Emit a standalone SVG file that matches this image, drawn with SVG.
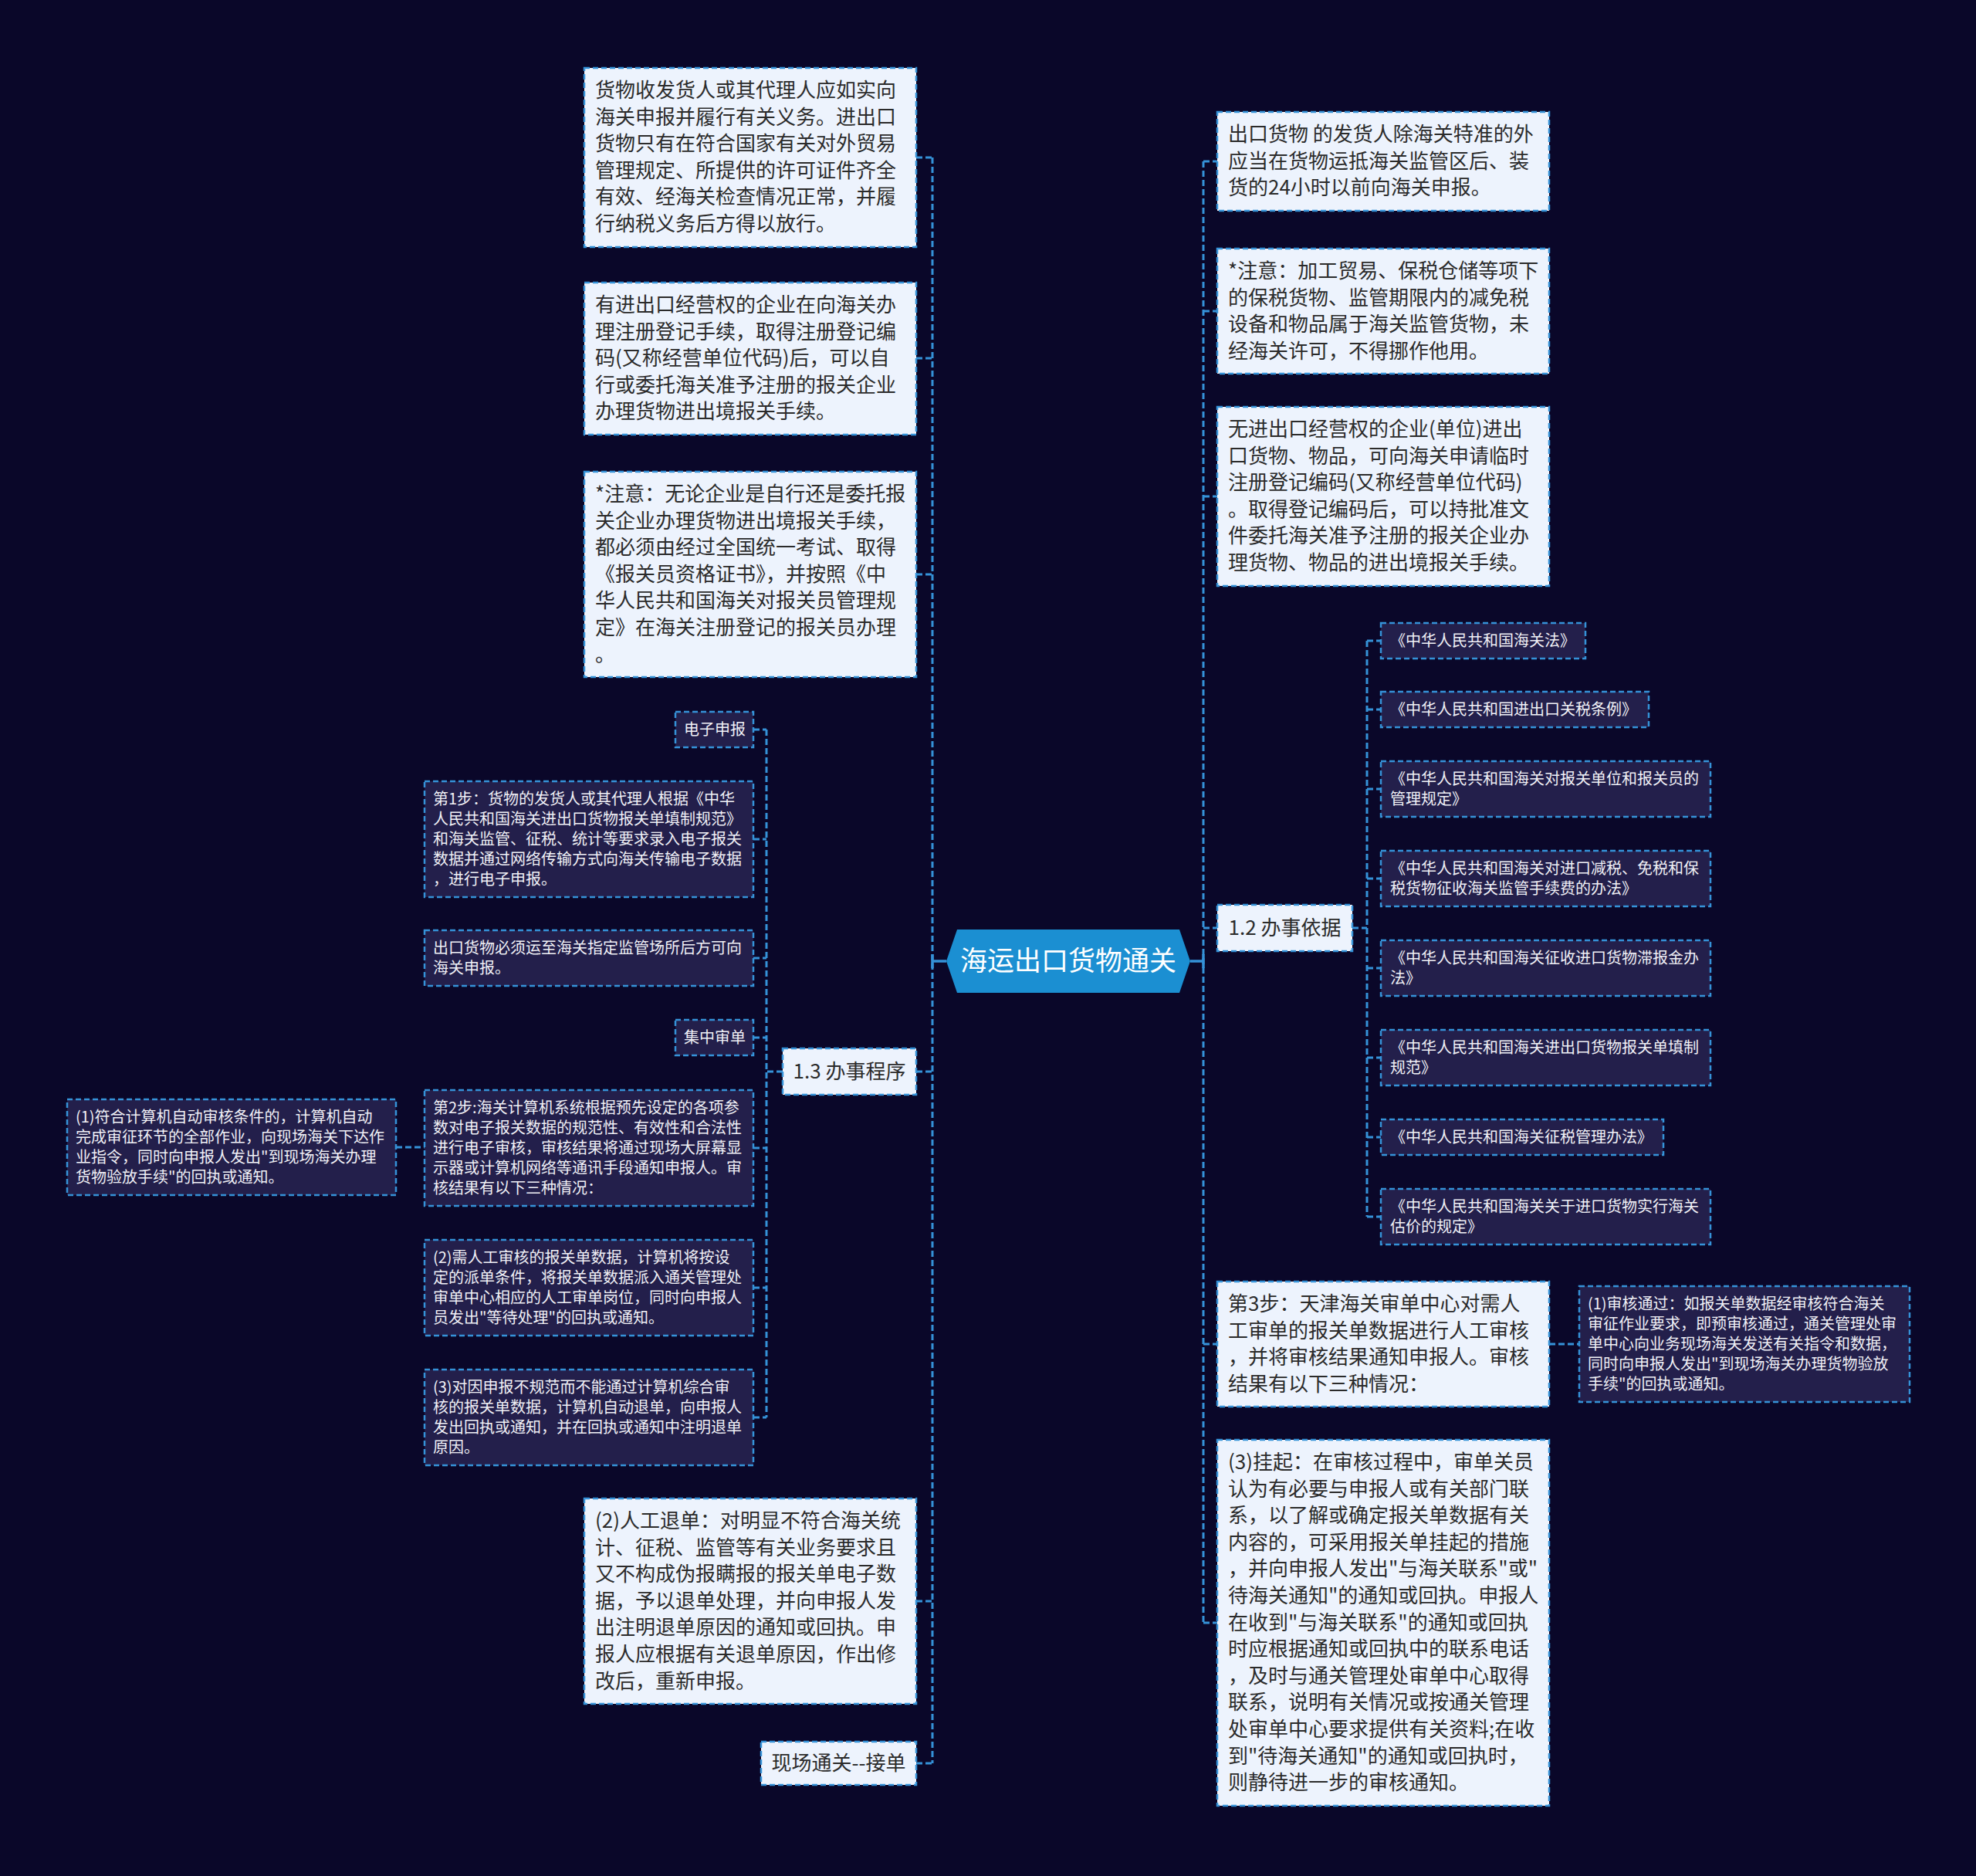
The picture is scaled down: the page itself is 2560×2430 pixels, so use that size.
<svg xmlns="http://www.w3.org/2000/svg" width="2560" height="2430" viewBox="0 0 2560 2430">
<style>
.bg{fill:#0a0729}
.lb{fill:#edf3fd;stroke:#3592d8;stroke-width:2.5;stroke-dasharray:7 4}
.db{fill:#231f4b;stroke:#3592d8;stroke-width:2.5;stroke-dasharray:7 4}
.lt{font-family:"Noto Sans CJK SC","Noto Sans",sans-serif;font-size:26px;fill:#2b2b2b}
.dt{font-family:"Noto Sans CJK SC","Noto Sans",sans-serif;font-size:20px;fill:#f0f0f6}
.ct{font-family:"Noto Sans CJK SC","Noto Sans",sans-serif;font-size:35px;fill:#ffffff}
.cn{fill:none;stroke:#3592d8;stroke-width:3;stroke-dasharray:8 4}
.cs{fill:none;stroke:#3592d8;stroke-width:3.5}
</style>
<rect class="bg" x="0" y="0" width="2560" height="2430"/>

<g id="connectors">
  <path class="cs" d="M1226 1245H1208M1208 1236V1254"/>
  <path class="cs" d="M1542 1245H1559M1559 1236V1254"/>
  <path class="cn" d="M1208 204V2284"/>
  <path class="cn" d="M1187 204H1208M1187 464H1208M1187 744H1208M1187 1388H1208M1187 2074H1208M1187 2284H1208"/>
  <path class="cn" d="M993 945V1836"/>
  <path class="cn" d="M1014 1388H993M976 945H993M976 1087H993M976 1241H993M976 1344H993M976 1487H993M976 1668H993M976 1836H993"/>
  <path class="cn" d="M513 1486H550"/>
  <path class="cn" d="M1559 209V2102"/>
  <path class="cn" d="M1559 209H1577M1559 403H1577M1559 643H1577M1559 1202H1577M1559 1741H1577M1559 2102H1577"/>
  <path class="cn" d="M1771 830V1576"/>
  <path class="cn" d="M1752 1202H1771M1771 830H1789M1771 919H1789M1771 1022H1789M1771 1138H1789M1771 1254H1789M1771 1370H1789M1771 1473H1789M1771 1576H1789"/>
  <path class="cn" d="M2007 1741H2046"/>
</g>

<g id="center">
  <polygon points="1226,1245 1240,1204 1528,1204 1542,1245 1528,1286 1240,1286" fill="#1b8fd2"/>
  <text class="ct" x="1384" y="1257" text-anchor="middle">海运出口货物通关</text>
</g>

<g id="L1">
  <rect class="lb" x="757" y="88" width="430" height="232"/>
  <text class="lt" x="771" y="126"><tspan x="771" dy="0">货物收发货人或其代理人应如实向</tspan><tspan x="771" dy="34.6">海关申报并履行有关义务。进出口</tspan><tspan x="771" dy="34.6">货物只有在符合国家有关对外贸易</tspan><tspan x="771" dy="34.6">管理规定、所提供的许可证件齐全</tspan><tspan x="771" dy="34.6">有效、经海关检查情况正常，并履</tspan><tspan x="771" dy="34.6">行纳税义务后方得以放行。</tspan></text>
</g>
<g id="L2">
  <rect class="lb" x="757" y="366" width="430" height="197"/>
  <text class="lt" x="771" y="404"><tspan x="771" dy="0">有进出口经营权的企业在向海关办</tspan><tspan x="771" dy="34.6">理注册登记手续，取得注册登记编</tspan><tspan x="771" dy="34.6">码(又称经营单位代码)后，可以自</tspan><tspan x="771" dy="34.6">行或委托海关准予注册的报关企业</tspan><tspan x="771" dy="34.6">办理货物进出境报关手续。</tspan></text>
</g>
<g id="L3">
  <rect class="lb" x="757" y="611" width="430" height="266"/>
  <text class="lt" x="771" y="649"><tspan x="771" dy="0">*注意：无论企业是自行还是委托报</tspan><tspan x="771" dy="34.6">关企业办理货物进出境报关手续，</tspan><tspan x="771" dy="34.6">都必须由经过全国统一考试、取得</tspan><tspan x="771" dy="34.6">《报关员资格证书》，并按照《中</tspan><tspan x="771" dy="34.6">华人民共和国海关对报关员管理规</tspan><tspan x="771" dy="34.6">定》在海关注册登记的报关员办理</tspan><tspan x="771" dy="34.6">。</tspan></text>
</g>
<g id="n13">
  <rect class="lb" x="1014" y="1358" width="173" height="60"/>
  <text class="lt" x="1100.5" y="1397" text-anchor="middle">1.3 办事程序</text>
</g>
<g id="dzsb">
  <rect class="db" x="875" y="922" width="101" height="46"/>
  <text class="dt" x="886" y="952">电子申报</text>
</g>
<g id="step1">
  <rect class="db" x="550" y="1012" width="426" height="150"/>
  <text class="dt" x="561" y="1042"><tspan x="561" dy="0">第1步：货物的发货人或其代理人根据《中华</tspan><tspan x="561" dy="26">人民共和国海关进出口货物报关单填制规范》</tspan><tspan x="561" dy="26">和海关监管、征税、统计等要求录入电子报关</tspan><tspan x="561" dy="26">数据并通过网络传输方式向海关传输电子数据</tspan><tspan x="561" dy="26">，进行电子申报。</tspan></text>
</g>
<g id="ckhw">
  <rect class="db" x="550" y="1205" width="426" height="72"/>
  <text class="dt" x="561" y="1235"><tspan x="561" dy="0">出口货物必须运至海关指定监管场所后方可向</tspan><tspan x="561" dy="26">海关申报。</tspan></text>
</g>
<g id="jzsd">
  <rect class="db" x="875" y="1321" width="101" height="46"/>
  <text class="dt" x="886" y="1351">集中审单</text>
</g>
<g id="step2">
  <rect class="db" x="550" y="1412" width="426" height="150"/>
  <text class="dt" x="561" y="1442"><tspan x="561" dy="0">第2步:海关计算机系统根据预先设定的各项参</tspan><tspan x="561" dy="26">数对电子报关数据的规范性、有效性和合法性</tspan><tspan x="561" dy="26">进行电子审核，审核结果将通过现场大屏幕显</tspan><tspan x="561" dy="26">示器或计算机网络等通讯手段通知申报人。审</tspan><tspan x="561" dy="26">核结果有以下三种情况：</tspan></text>
</g>
<g id="auto1">
  <rect class="db" x="87" y="1424" width="426" height="124"/>
  <text class="dt" x="98" y="1454"><tspan x="98" dy="0">(1)符合计算机自动审核条件的，计算机自动</tspan><tspan x="98" dy="26">完成审征环节的全部作业，向现场海关下达作</tspan><tspan x="98" dy="26">业指令，同时向申报人发出"到现场海关办理</tspan><tspan x="98" dy="26">货物验放手续"的回执或通知。</tspan></text>
</g>
<g id="auto2">
  <rect class="db" x="550" y="1606" width="426" height="124"/>
  <text class="dt" x="561" y="1636"><tspan x="561" dy="0">(2)需人工审核的报关单数据，计算机将按设</tspan><tspan x="561" dy="26">定的派单条件，将报关单数据派入通关管理处</tspan><tspan x="561" dy="26">审单中心相应的人工审单岗位，同时向申报人</tspan><tspan x="561" dy="26">员发出"等待处理"的回执或通知。</tspan></text>
</g>
<g id="auto3">
  <rect class="db" x="550" y="1774" width="426" height="124"/>
  <text class="dt" x="561" y="1804"><tspan x="561" dy="0">(3)对因申报不规范而不能通过计算机综合审</tspan><tspan x="561" dy="26">核的报关单数据，计算机自动退单，向申报人</tspan><tspan x="561" dy="26">发出回执或通知，并在回执或通知中注明退单</tspan><tspan x="561" dy="26">原因。</tspan></text>
</g>
<g id="rgtd">
  <rect class="lb" x="757" y="1941" width="430" height="266"/>
  <text class="lt" x="771" y="1979"><tspan x="771" dy="0">(2)人工退单：对明显不符合海关统</tspan><tspan x="771" dy="34.6">计、征税、监管等有关业务要求且</tspan><tspan x="771" dy="34.6">又不构成伪报瞒报的报关单电子数</tspan><tspan x="771" dy="34.6">据，予以退单处理，并向申报人发</tspan><tspan x="771" dy="34.6">出注明退单原因的通知或回执。申</tspan><tspan x="771" dy="34.6">报人应根据有关退单原因，作出修</tspan><tspan x="771" dy="34.6">改后，重新申报。</tspan></text>
</g>
<g id="xctg">
  <rect class="lb" x="986" y="2256" width="201" height="56"/>
  <text class="lt" x="1086.5" y="2293" text-anchor="middle">现场通关--接单</text>
</g>

<g id="R1">
  <rect class="lb" x="1577" y="145" width="430" height="128"/>
  <text class="lt" x="1591" y="183"><tspan x="1591" dy="0">出口货物 的发货人除海关特准的外</tspan><tspan x="1591" dy="34.6">应当在货物运抵海关监管区后、装</tspan><tspan x="1591" dy="34.6">货的24小时以前向海关申报。</tspan></text>
</g>
<g id="R2">
  <rect class="lb" x="1577" y="322" width="430" height="162"/>
  <text class="lt" x="1591" y="360"><tspan x="1591" dy="0">*注意：加工贸易、保税仓储等项下</tspan><tspan x="1591" dy="34.6">的保税货物、监管期限内的减免税</tspan><tspan x="1591" dy="34.6">设备和物品属于海关监管货物，未</tspan><tspan x="1591" dy="34.6">经海关许可，不得挪作他用。</tspan></text>
</g>
<g id="R3">
  <rect class="lb" x="1577" y="527" width="430" height="232"/>
  <text class="lt" x="1591" y="565"><tspan x="1591" dy="0">无进出口经营权的企业(单位)进出</tspan><tspan x="1591" dy="34.6">口货物、物品，可向海关申请临时</tspan><tspan x="1591" dy="34.6">注册登记编码(又称经营单位代码)</tspan><tspan x="1591" dy="34.6">。取得登记编码后，可以持批准文</tspan><tspan x="1591" dy="34.6">件委托海关准予注册的报关企业办</tspan><tspan x="1591" dy="34.6">理货物、物品的进出境报关手续。</tspan></text>
</g>
<g id="n12">
  <rect class="lb" x="1577" y="1172" width="175" height="60"/>
  <text class="lt" x="1664.5" y="1211" text-anchor="middle">1.2 办事依据</text>
</g>
<g id="law1">
  <rect class="db" x="1789" y="807" width="265" height="46"/>
  <text class="dt" x="1801" y="837">《中华人民共和国海关法》</text>
</g>
<g id="law2">
  <rect class="db" x="1789" y="896" width="347" height="46"/>
  <text class="dt" x="1801" y="926">《中华人民共和国进出口关税条例》</text>
</g>
<g id="law3">
  <rect class="db" x="1789" y="986" width="427" height="72"/>
  <text class="dt" x="1801" y="1016"><tspan x="1801" dy="0">《中华人民共和国海关对报关单位和报关员的</tspan><tspan x="1801" dy="26">管理规定》</tspan></text>
</g>
<g id="law4">
  <rect class="db" x="1789" y="1102" width="427" height="72"/>
  <text class="dt" x="1801" y="1132"><tspan x="1801" dy="0">《中华人民共和国海关对进口减税、免税和保</tspan><tspan x="1801" dy="26">税货物征收海关监管手续费的办法》</tspan></text>
</g>
<g id="law5">
  <rect class="db" x="1789" y="1218" width="427" height="72"/>
  <text class="dt" x="1801" y="1248"><tspan x="1801" dy="0">《中华人民共和国海关征收进口货物滞报金办</tspan><tspan x="1801" dy="26">法》</tspan></text>
</g>
<g id="law6">
  <rect class="db" x="1789" y="1334" width="427" height="72"/>
  <text class="dt" x="1801" y="1364"><tspan x="1801" dy="0">《中华人民共和国海关进出口货物报关单填制</tspan><tspan x="1801" dy="26">规范》</tspan></text>
</g>
<g id="law7">
  <rect class="db" x="1789" y="1450" width="366" height="46"/>
  <text class="dt" x="1801" y="1480">《中华人民共和国海关征税管理办法》</text>
</g>
<g id="law8">
  <rect class="db" x="1789" y="1540" width="427" height="72"/>
  <text class="dt" x="1801" y="1570"><tspan x="1801" dy="0">《中华人民共和国海关关于进口货物实行海关</tspan><tspan x="1801" dy="26">估价的规定》</tspan></text>
</g>
<g id="step3">
  <rect class="lb" x="1577" y="1660" width="430" height="162"/>
  <text class="lt" x="1591" y="1698"><tspan x="1591" dy="0">第3步：天津海关审单中心对需人</tspan><tspan x="1591" dy="34.6">工审单的报关单数据进行人工审核</tspan><tspan x="1591" dy="34.6">，并将审核结果通知申报人。审核</tspan><tspan x="1591" dy="34.6">结果有以下三种情况：</tspan></text>
</g>
<g id="pass1">
  <rect class="db" x="2046" y="1666" width="428" height="150"/>
  <text class="dt" x="2057" y="1696"><tspan x="2057" dy="0">(1)审核通过：如报关单数据经审核符合海关</tspan><tspan x="2057" dy="26">审征作业要求，即预审核通过，通关管理处审</tspan><tspan x="2057" dy="26">单中心向业务现场海关发送有关指令和数据，</tspan><tspan x="2057" dy="26">同时向申报人发出"到现场海关办理货物验放</tspan><tspan x="2057" dy="26">手续"的回执或通知。</tspan></text>
</g>
<g id="hang3">
  <rect class="lb" x="1577" y="1865" width="430" height="474"/>
  <text class="lt" x="1591" y="1903"><tspan x="1591" dy="0">(3)挂起：在审核过程中，审单关员</tspan><tspan x="1591" dy="34.6">认为有必要与申报人或有关部门联</tspan><tspan x="1591" dy="34.6">系，以了解或确定报关单数据有关</tspan><tspan x="1591" dy="34.6">内容的，可采用报关单挂起的措施</tspan><tspan x="1591" dy="34.6">，并向申报人发出"与海关联系"或"</tspan><tspan x="1591" dy="34.6">待海关通知"的通知或回执。申报人</tspan><tspan x="1591" dy="34.6">在收到"与海关联系"的通知或回执</tspan><tspan x="1591" dy="34.6">时应根据通知或回执中的联系电话</tspan><tspan x="1591" dy="34.6">，及时与通关管理处审单中心取得</tspan><tspan x="1591" dy="34.6">联系，说明有关情况或按通关管理</tspan><tspan x="1591" dy="34.6">处审单中心要求提供有关资料;在收</tspan><tspan x="1591" dy="34.6">到"待海关通知"的通知或回执时，</tspan><tspan x="1591" dy="34.6">则静待进一步的审核通知。</tspan></text>
</g>
</svg>
